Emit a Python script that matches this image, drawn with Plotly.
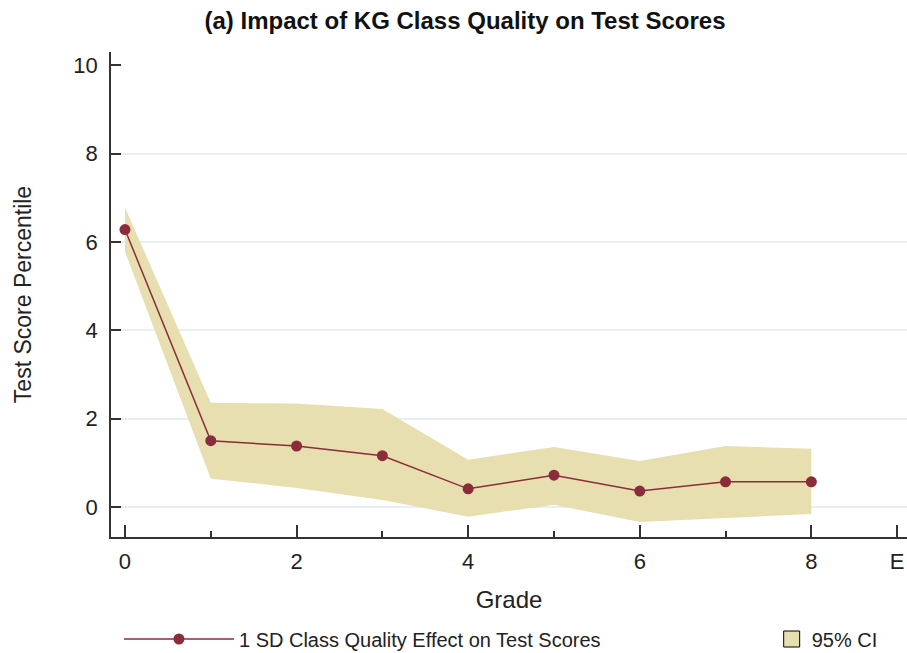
import plotly.graph_objects as go

grades = [0, 1, 2, 3, 4, 5, 6, 7, 8]
effect = [6.28, 1.50, 1.38, 1.16, 0.41, 0.72, 0.36, 0.57, 0.57]
ci_upper = [6.78, 2.36, 2.34, 2.22, 1.07, 1.36, 1.04, 1.38, 1.32]
ci_lower = [5.78, 0.64, 0.43, 0.16, -0.22, 0.05, -0.34, -0.25, -0.16]
x_tickvals = [0, 2, 4, 6, 8, 9]
x_ticktext = ["0", "2", "4", "6", "8", "E"]
x_minor = [1, 3, 5, 7]
y_tickvals = [0, 2, 4, 6, 8, 10]
y_gridvals = [0, 2, 4, 6, 8]

LINE = "#8B2C3B"
FILL = "#E8DFB0"
FONT = "Liberation Sans, Arial, sans-serif"
AX = "#333333"

fig = go.Figure()
# invisible trace so the grid-only overlay axis gets drawn
fig.add_trace(go.Scatter(x=[None], y=[None], yaxis="y2", mode="lines",
                         showlegend=False, hoverinfo="skip"))
fig.add_trace(go.Scatter(
    x=grades + grades[::-1], y=ci_upper + ci_lower[::-1],
    fill="toself", fillcolor=FILL, line=dict(width=0, color=FILL),
    mode="lines", showlegend=False, hoverinfo="skip"))
fig.add_trace(go.Scatter(
    x=grades, y=effect, mode="lines+markers",
    line=dict(color=LINE, width=1.5), marker=dict(color=LINE, size=11),
    name="1 SD Class Quality Effect on Test Scores", legend="legend"))
fig.add_trace(go.Scatter(
    x=[None], y=[None], mode="markers",
    marker=dict(symbol="square", size=16, color=FILL, line=dict(color="black", width=1)),
    name="95% CI", legend="legend2"))

W, H = 907, 653
fig.update_layout(
    width=W, height=H,
    paper_bgcolor="white", plot_bgcolor="white",
    margin=dict(l=111, r=0, t=52, b=116, autoexpand=False),
    font=dict(family=FONT, size=22, color="#222"),
    title=dict(text="<b>(a) Impact of KG Class Quality on Test Scores</b>",
               x=465 / W, xanchor="center", y=1 - 21 / H, yanchor="middle",
               font=dict(family=FONT, size=24, color="#111")),
    xaxis=dict(range=[-0.163, 9.115], tickmode="array", tickvals=x_tickvals, ticktext=x_ticktext,
               ticks="inside", ticklen=12, tickcolor=AX, tickwidth=1.5,
               minor=dict(tickvals=x_minor, ticks="inside", ticklen=6, tickcolor=AX, tickwidth=1.5),
               showline=True, linecolor=AX, linewidth=1.5, showgrid=False, zeroline=False,
               automargin=False, ticklabelstandoff=4,
               title=dict(text="Grade", standoff=18, font=dict(size=24)),
               tickfont=dict(size=22)),
    yaxis=dict(range=[-0.68, 10.3], tickmode="array", tickvals=y_tickvals,
               ticks="inside", ticklen=10, tickcolor=AX, tickwidth=1.5,
               showline=True, linecolor=AX, linewidth=1.5,
               showgrid=False, zeroline=False, automargin=False, ticklabelstandoff=7,
               title=dict(text="Test Score Percentile", standoff=35, font=dict(size=23)),
               tickfont=dict(size=22)),
    yaxis2=dict(range=[-0.68, 10.3], overlaying="y", anchor="x", tickmode="array", tickvals=y_gridvals,
                showticklabels=False, ticks="", showline=False, zeroline=False,
                showgrid=True, gridcolor="#E6EFF3", gridwidth=1.5, automargin=False),
    legend=dict(orientation="h", x=0.01, xanchor="left", yref="container", y=1 - 639 / H, yanchor="middle",
                font=dict(size=20), itemwidth=110, bgcolor="rgba(0,0,0,0)"),
    legend2=dict(orientation="h", x=0.830, xanchor="left", yref="container", y=1 - 639 / H, yanchor="middle",
                 font=dict(size=20), itemwidth=30, itemsizing="trace", bgcolor="rgba(0,0,0,0)"),
)

fig.write_html("out.html", config={"displayModeBar": False},
               post_script="document.body.style.margin='0';document.body.style.overflow='hidden';")
